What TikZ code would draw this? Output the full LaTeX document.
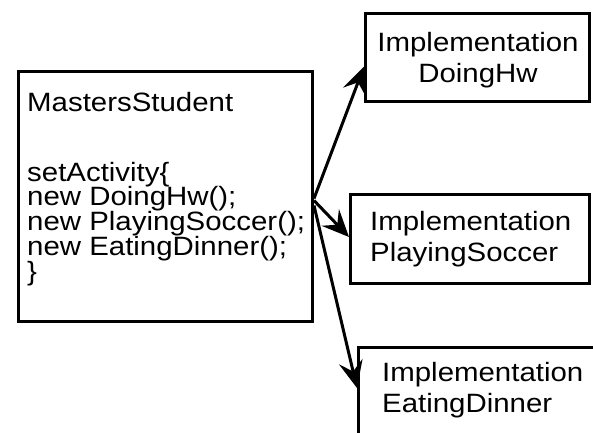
\documentclass[tikz,border=0pt]{standalone}
\usepackage{fontspec}
\setmainfont[FakeStretch=1.11]{Liberation Sans}
\usetikzlibrary{arrows.meta}
\begin{document}
\begin{tikzpicture}[x=1pt,y=-1pt,
  box/.style={draw, line width=3pt, inner sep=0pt, anchor=north west},
  maintext/.style={font=\fontsize{26.5}{24.75}\selectfont, align=left, inner sep=0pt, anchor=north west},
  sidetext/.style={font=\fontsize{26.5}{31}\selectfont, inner sep=0pt},
  link/.style={line width=3pt, -{Stealth[length=27pt,width=24pt,inset=10pt]}}]
\clip (0,0) rectangle (593,432);
\fill[white] (0,0) rectangle (593,432);

% the class that chooses its activity
\node[box, minimum width=294pt, minimum height=250pt] (ms) at (17,70) {};
\node[maintext] (mstext) at (27,92)
  {MastersStudent\\[45pt]setActivity\{\\new DoingHw();\\new PlayingSoccer();\\new EatingDinner();\\\}};

% the three implementations
\node[box, minimum width=224pt, minimum height=88pt] (dhw) at (364,12) {};
\node[sidetext, align=center, anchor=north] (dhwtext) at (478,32) {Implementation\\DoingHw};

\node[box, minimum width=239pt, minimum height=89pt] (psc) at (349,193) {};
\node[sidetext, align=left, anchor=north west] (psctext) at (370,211) {Implementation\\PlayingSoccer};

\node[box, minimum width=260pt, minimum height=110pt] (edn) at (357,346) {};
\node[sidetext, align=left, anchor=north west] (edntext) at (382,362) {Implementation\\EatingDinner};

% links from the student to each activity
\draw[link] ([yshift=-2pt]ms.east) -- ([yshift=-9pt]dhw.west);
\draw[link] ([yshift=-4pt]ms.east) -- ([yshift=2pt]psc.west);
\draw[link] ([yshift=-9pt]ms.east) -- ([yshift=-42pt]edn.north west);
\end{tikzpicture}
\end{document}
